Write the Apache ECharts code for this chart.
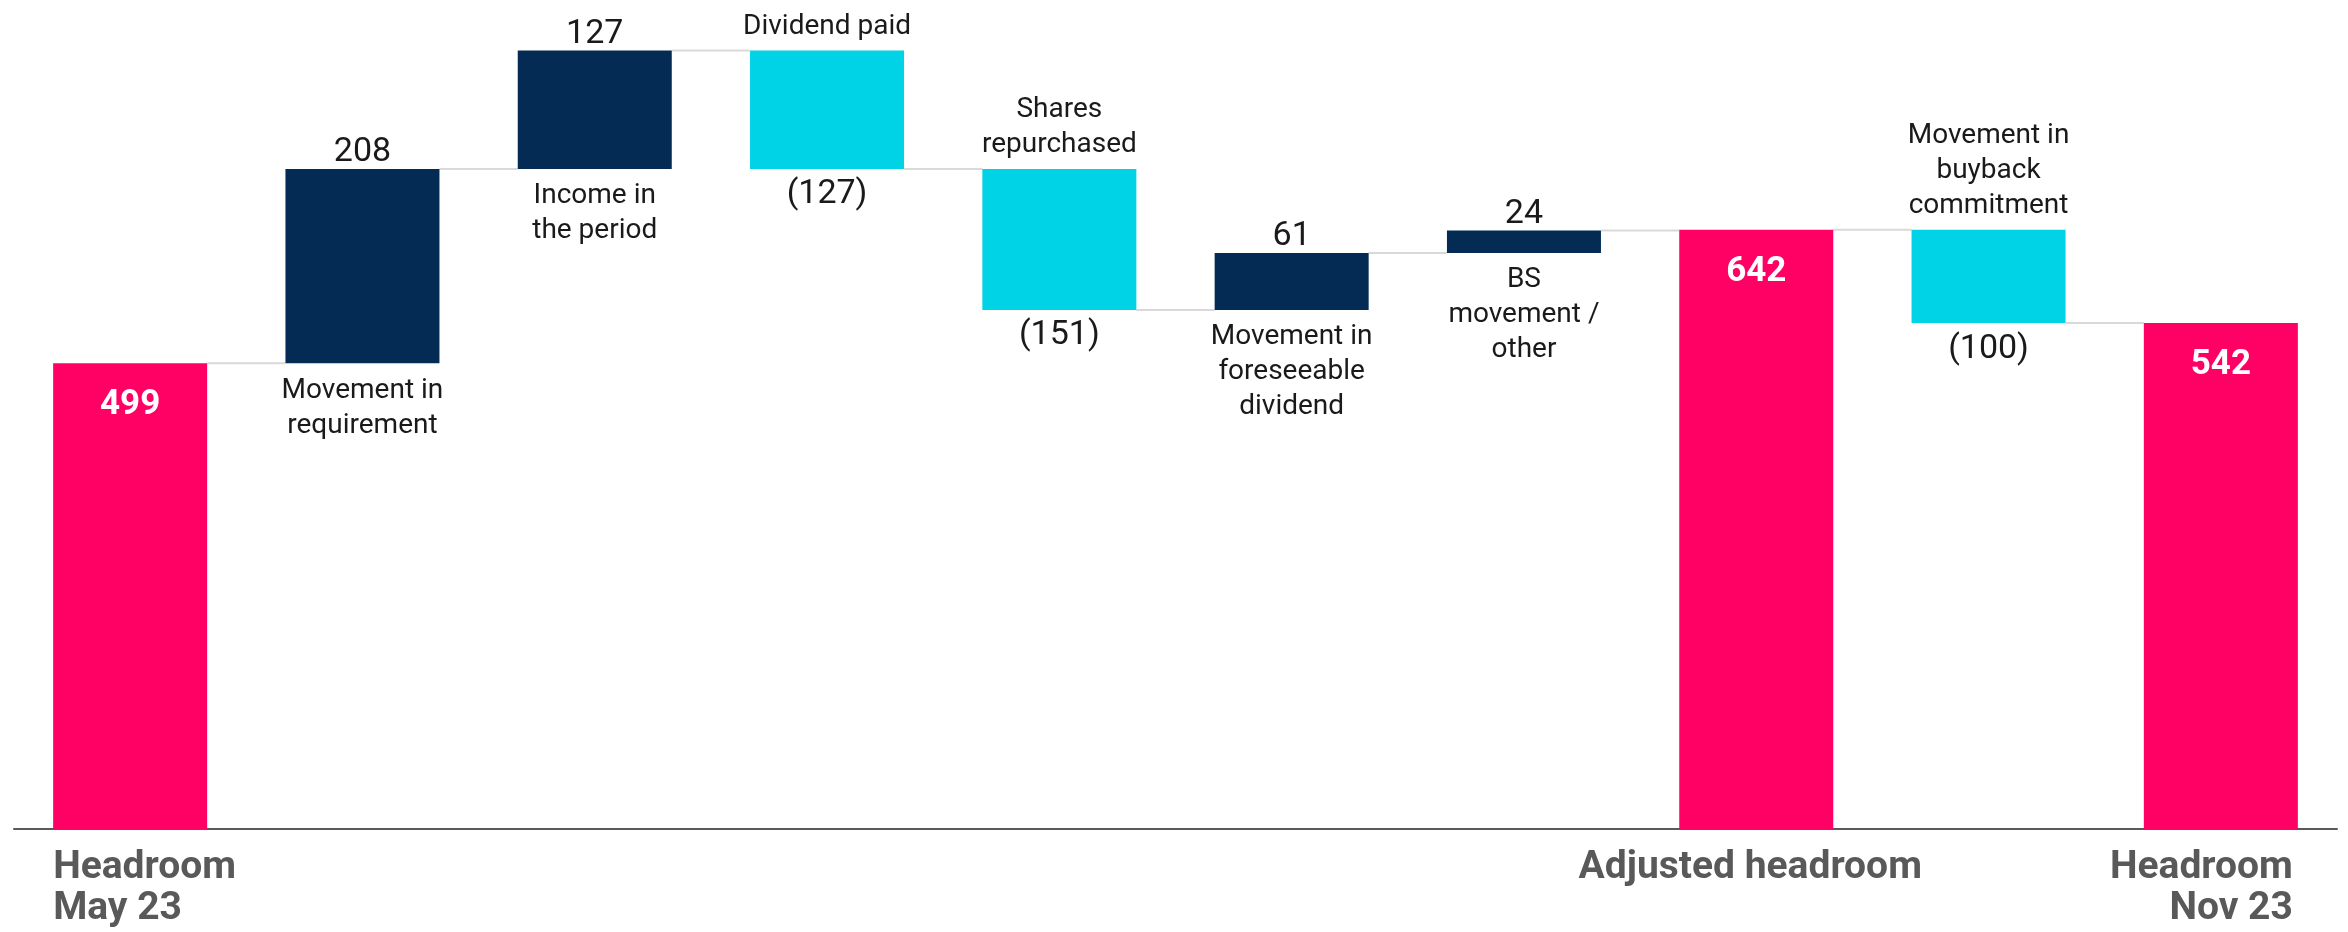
<!DOCTYPE html>
<html><head><meta charset="utf-8">
<script src="https://cdn.jsdelivr.net/npm/echarts@6/dist/echarts.min.js"></script>
<style>html,body{margin:0;padding:0;background:#fff}#c{width:2348px;height:932px}</style>
</head><body><div id="c"></div>
<script>
// ---- data ----
const categories = ['Headroom\nMay 23', 'Movement in\nrequirement', 'Income in\nthe period', 'Dividend paid', 'Shares\nrepurchased', 'Movement in\nforeseeable\ndividend', 'BS\nmovement /\nother', 'Adjusted headroom', 'Movement in\nbuyback\ncommitment', 'Headroom\nNov 23'];
const values = [499, 208, 127, -127, -151, 61, 24, 642, -100, 542];
const kinds = ['total', 'up', 'up', 'down', 'down', 'up', 'up', 'total', 'down', 'total'];
const totalNameAlign = ['left', null, null, null, null, null, null, 'center', null, 'right'];

// ---- styles ----
const COLORS = { total: '#FF0064', up: '#032B53', down: '#00D3E6' };
const FONT = 'Roboto, "Liberation Sans", sans-serif';
const TXT = '#1a1a1a';
const BAR_RATIO = 0.663;

// ---- waterfall computation ----
const base = [], height = [], cum = [];
let running = 0;
values.forEach((v, i) => {
  if (kinds[i] === 'total') { base.push(0); height.push(v); running = v; }
  else if (v >= 0) { base.push(running); height.push(v); running += v; }
  else { base.push(running + v); height.push(-v); running += v; }
  cum.push(running);
});
const fmt = v => v < 0 ? '(' + Math.abs(v) + ')' : String(v);

const valueStyle = { fontFamily: FONT, fontSize: 34, color: TXT, lineHeight: 38 };
const nameStyle = { fontFamily: FONT, fontSize: 28, color: TXT, lineHeight: 35, align: 'center' };

const baseData = values.map((v, i) => {
  if (kinds[i] === 'total') return { value: 0, label: { show: false } };
  if (kinds[i] === 'up') {
    return { value: base[i], label: Object.assign({ show: true, position: 'insideTop', distance: 10, formatter: categories[i] }, nameStyle) };
  }
  return { value: base[i], label: Object.assign({ show: true, position: 'insideTop', distance: 7, formatter: fmt(v) }, valueStyle) };
});

const visData = values.map((v, i) => {
  const item = { value: height[i], itemStyle: { color: COLORS[kinds[i]] } };
  if (kinds[i] === 'total') {
    item.label = { show: true, position: 'insideTop', distance: 25, formatter: fmt(v), fontFamily: FONT, fontSize: 35, fontWeight: 'bold', color: '#fff' };
  } else if (kinds[i] === 'up') {
    item.label = Object.assign({ show: true, position: 'top', distance: -3, formatter: fmt(v) }, valueStyle);
  } else {
    item.label = Object.assign({ show: true, position: 'top', distance: 6, formatter: categories[i] }, nameStyle);
  }
  return item;
});

const connectorData = cum.slice(0, cum.length - 1).map((c, i) => [i, c]);
const totalNameData = kinds.map((k, i) => k === 'total' ? [i, 0] : null).filter(Boolean);

const chart = echarts.init(document.getElementById('c'), null, { renderer: 'canvas' });
chart.setOption({
  animation: false,
  backgroundColor: '#fff',
  grid: { left: 14, right: 11, top: 0, bottom: 103, containLabel: false },
  xAxis: {
    type: 'category',
    data: categories,
    axisLine: { show: true, lineStyle: { color: '#5a5a5a', width: 2 } },
    axisTick: { show: false },
    axisLabel: { show: false }
  },
  yAxis: { type: 'value', min: 0, max: 888, show: false, splitLine: { show: false } },
  series: [
    {
      type: 'custom',
      name: 'connectors',
      clip: false,
      z: 1,
      data: connectorData,
      renderItem: (params, api) => {
        const i = api.value(0), lvl = api.value(1);
        const p1 = api.coord([i, lvl]), p2 = api.coord([i + 1, lvl]);
        const bw = api.size([1, 0])[0] * BAR_RATIO;
        return {
          type: 'line',
          shape: { x1: p1[0] + bw / 2, y1: p1[1], x2: p2[0] - bw / 2, y2: p2[1] },
          style: { stroke: '#d9d9d9', lineWidth: 2 }
        };
      }
    },
    {
      type: 'bar', name: 'base', stack: 'w', barWidth: (BAR_RATIO * 100) + '%',
      itemStyle: { color: 'transparent' }, z: 2,
      data: baseData
    },
    {
      type: 'bar', name: 'visible', stack: 'w', barWidth: (BAR_RATIO * 100) + '%', z: 3,
      data: visData
    },
    {
      type: 'custom',
      name: 'totalNames',
      clip: false,
      z: 4,
      data: totalNameData,
      renderItem: (params, api) => {
        const i = api.value(0);
        const p = api.coord([i, 0]);
        const bw = api.size([1, 0])[0] * BAR_RATIO;
        const align = totalNameAlign[i];
        let x = p[0] - 6;
        if (align === 'left') x = p[0] - bw / 2;
        if (align === 'right') x = p[0] + bw / 2 - 5;
        return {
          type: 'text',
          style: {
            text: categories[i], x: x, y: p[1] + 19,
            align: align, verticalAlign: 'top',
            fontFamily: FONT, fontSize: 39, fontWeight: 'bold', lineHeight: 41,
            fill: '#595959'
          }
        };
      }
    }
  ]
});
</script>
</body></html>
